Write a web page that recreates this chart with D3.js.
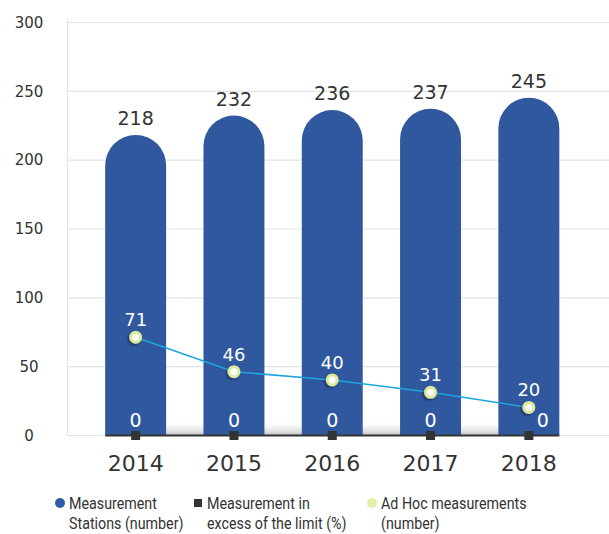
<!DOCTYPE html>
<html>
<head>
<meta charset="utf-8">
<script src="https://cdn.jsdelivr.net/npm/d3@7"></script>
<style>
  html, body { margin: 0; padding: 0; background: #fff; }
  svg { display: block; }
</style>
</head>
<body>
<div id="chart"></div>
<script>
// Yearly figures
const years = ["2014", "2015", "2016", "2017", "2018"];
const stations = [218, 232, 236, 237, 245];      // Measurement Stations (number)
const excess = [0, 0, 0, 0, 0];                  // Measurement in excess of the limit (%)
const adHoc = [71, 46, 40, 31, 20];              // Ad Hoc measurements (number)
const yTicks = [0, 50, 100, 150, 200, 250, 300];
const legendItems = [
  { lines: ["Measurement", "Stations (number)"], shape: "circle", color: "#2c5ca8" },
  { lines: ["Measurement in", "excess of the limit (%)"], shape: "square", color: "#333333" },
  { lines: ["Ad Hoc measurements", "(number)"], shape: "circle", color: "#e2efa6" }
];

const W = 609, H = 534;
const margin = { left: 67, right: 0, top: 22, bottom: 99 };
const baseY = H - margin.bottom; // 435

const svg = d3.select("#chart").append("svg").attr("width", W).attr("height", H);
const defs = svg.append("defs");

const shade = defs.append("linearGradient").attr("id", "floor").attr("x1", 0).attr("y1", 0).attr("x2", 0).attr("y2", 1);
shade.append("stop").attr("offset", "0%").attr("stop-color", "#ffffff").attr("stop-opacity", 0);
shade.append("stop").attr("offset", "100%").attr("stop-color", "#c4c4c4").attr("stop-opacity", 1);

const drop = defs.append("filter").attr("id", "drop").attr("x", "-50%").attr("y", "-50%").attr("width", "200%").attr("height", "200%");
drop.append("feDropShadow").attr("dx", -1.5).attr("dy", 1.5).attr("stdDeviation", 1.2).attr("flood-color", "#000").attr("flood-opacity", 0.45);

const y = d3.scaleLinear().domain([0, 300]).range([baseY, margin.top]);
const x = d3.scaleBand().domain(years).range([86.5, 578]).paddingInner(0.38).paddingOuter(0.19);
const bw = x.bandwidth();
const cx = d => x(d) + bw / 2;

// Gridlines
svg.append("g").selectAll("line").data(yTicks).join("line")
  .attr("x1", margin.left).attr("x2", W)
  .attr("y1", d => y(d) + 0.5).attr("y2", d => y(d) + 0.5)
  .attr("stroke", "#e4e4e4").attr("stroke-width", 1.2);
svg.append("line")
  .attr("x1", margin.left + 0.5).attr("x2", margin.left + 0.5)
  .attr("y1", y(300) - 3).attr("y2", baseY)
  .attr("stroke", "#e4e4e4").attr("stroke-width", 1.2);

// Y axis labels
const yAxis = svg.append("g").attr("transform", "translate(29,0)")
  .call(d3.axisLeft(y).tickValues(yTicks).tickSize(0).tickPadding(0));
yAxis.select(".domain").remove();
yAxis.selectAll("text")
  .attr("text-anchor", "middle").attr("dy", "0.35em")
  .style("font-family", "DejaVu Sans").style("font-size", "15px").attr("fill", "#333");

// Floor shading under bars
const x0 = x(years[0]), x1 = x(years[years.length - 1]) + bw;
svg.append("rect").attr("x", x0).attr("y", baseY - 14).attr("width", x1 - x0).attr("height", 14)
  .attr("fill", "url(#floor)");

// Rounded-top bars
const r = bw / 2;
svg.append("g").selectAll("path").data(years).join("path")
  .attr("fill", "#30589f")
  .attr("d", (d, i) => {
    const left = x(d), top = y(stations[i]);
    return `M${left},${baseY} L${left},${top + r} A${r},${r} 0 0 1 ${left + bw},${top + r} L${left + bw},${baseY} Z`;
  });

// Bar value labels
svg.append("g").selectAll("text").data(years).join("text")
  .attr("x", d => cx(d)).attr("y", (d, i) => y(stations[i]) - 10)
  .attr("text-anchor", "middle")
  .style("font-family", "DejaVu Sans").style("font-size", "19px").attr("fill", "#333")
  .text((d, i) => stations[i]);

// Axis baseline
svg.append("line").attr("x1", x0).attr("x2", x1).attr("y1", baseY + 0.5).attr("y2", baseY + 0.5)
  .attr("stroke", "#333").attr("stroke-width", 2);

// Excess markers (squares on the baseline)
svg.append("g").selectAll("rect").data(years).join("rect")
  .attr("x", d => cx(d) - 4.5).attr("y", (d, i) => y(excess[i]) - 4)
  .attr("width", 9).attr("height", 9).attr("fill", "#333");

// Excess value labels
svg.append("g").selectAll("text").data(years).join("text")
  .attr("x", (d, i) => cx(d) + (i === years.length - 1 ? 14 : 0))
  .attr("y", (d, i) => y(excess[i]) - 8)
  .attr("text-anchor", "middle")
  .style("font-family", "DejaVu Sans").style("font-size", "19px").attr("fill", "#fff")
  .text((d, i) => excess[i]);

// Ad hoc line
const line = d3.line().x(d => cx(d.year)).y(d => y(d.v));
const pts = years.map((yr, i) => ({ year: yr, v: adHoc[i] }));
svg.append("path").datum(pts).attr("d", line)
  .attr("fill", "none").attr("stroke", "#1ea5e0").attr("stroke-width", 1.6);
svg.append("g").selectAll("circle").data(pts).join("circle")
  .attr("cx", d => cx(d.year)).attr("cy", d => y(d.v)).attr("r", 5)
  .attr("fill", "#fff").attr("stroke", "#dcea9c").attr("stroke-width", 3)
  .attr("filter", "url(#drop)");
svg.append("g").selectAll("text").data(pts).join("text")
  .attr("x", d => cx(d.year)).attr("y", d => y(d.v) - 11)
  .attr("text-anchor", "middle")
  .style("font-family", "DejaVu Sans").style("font-size", "18px").attr("fill", "#fff")
  .text(d => d.v);

// X axis labels
svg.append("g").selectAll("text").data(years).join("text")
  .attr("x", d => cx(d)).attr("y", baseY + 36)
  .attr("text-anchor", "middle")
  .style("font-family", "DejaVu Sans").style("font-size", "22px").attr("fill", "#333")
  .text(d => d);

// Legend (condensed text)
const legendX = [60, 198, 372];
const lg = svg.append("g").selectAll("g").data(legendItems).join("g")
  .attr("transform", (d, i) => `translate(${legendX[i]},503)`);
lg.each(function (d) {
  const g = d3.select(this);
  if (d.shape === "circle") g.append("circle").attr("r", 5).attr("fill", d.color);
  else g.append("rect").attr("x", -4).attr("y", -4).attr("width", 8).attr("height", 8).attr("fill", d.color);
  g.append("g").attr("transform", "translate(9,0) scale(0.84,1)")
    .append("text").attr("x", 0).attr("y", 6)
    .style("font-family", "Roboto").style("font-size", "17px").attr("fill", "#333")
    .selectAll("tspan").data(d.lines).join("tspan")
    .attr("x", 0).attr("dy", (l, j) => j === 0 ? 0 : 20).text(l => l);
});
</script>
</body>
</html>
